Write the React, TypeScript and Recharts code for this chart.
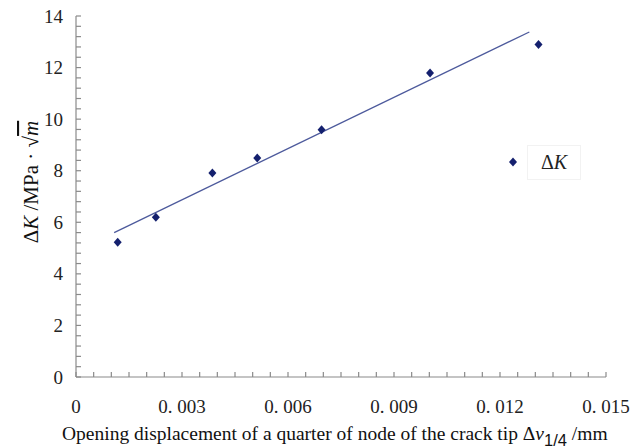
import { ScatterChart, Scatter, XAxis, YAxis, Legend } from 'recharts';

// opening displacement (mm) and ΔK (MPa·√m)
const dispX = [0.00118, 0.00226, 0.00386, 0.00513, 0.00695, 0.01002, 0.01309];
const deltaK = [5.23, 6.2, 7.91, 8.49, 9.59, 11.79, 12.89];

// linear trend line end points
const trendX = [0.00108, 0.01283];
const trendY = [5.6, 13.38];

const xMajor = [0, 0.003, 0.006, 0.009, 0.012, 0.015];
const xLabels = ['0', '0. 003', '0. 006', '0. 009', '0. 012', '0. 015'];
const xMinor = [
  0, 0.0005, 0.001, 0.0015, 0.002, 0.0025, 0.003, 0.0035, 0.004, 0.0045, 0.005,
  0.0055, 0.006, 0.0065, 0.007, 0.0075, 0.008, 0.0085, 0.009, 0.0095, 0.01,
  0.0105, 0.011, 0.0115, 0.012, 0.0125, 0.013, 0.0135, 0.014, 0.0145, 0.015,
];
const yMajor = [0, 2, 4, 6, 8, 10, 12, 14];
const yMinor = [
  0, 0.4, 0.8, 1.2, 1.6, 2, 2.4, 2.8, 3.2, 3.6, 4, 4.4, 4.8, 5.2, 5.6, 6, 6.4, 6.8,
  7.2, 7.6, 8, 8.4, 8.8, 9.2, 9.6, 10, 10.4, 10.8, 11.2, 11.6, 12, 12.4, 12.8, 13.2,
  13.6, 14,
];

const points = dispX.map((x, i) => ({ x, y: deltaK[i] }));
const trend = trendX.map((x, i) => ({ x, y: trendY[i] }));

const SERIF = '"Liberation Serif", "Times New Roman", serif';
const AXIS = '#8a8a8a';
const FRAME = '#b4b4b4';
const DOT = '#14206e';
const LINE = '#4d5a9c';
const GAP = 10; // tickMargin, used to find the axis line back inside the custom ticks

const near = (a: number, b: number) => Math.abs(a - b) < 1e-9;

// bottom axis tick: small inward mark plus label on majors
const XTick = (p: any) => {
  const v = p.payload?.value;
  const i = xMajor.findIndex((m) => near(m, v));
  const axisY = p.y - GAP;
  return (
    <g>
      <path d={`M${p.x},${axisY}V${axisY - 5}`} stroke={AXIS} strokeWidth={1.2} fill="none" />
      {i >= 0 && (
        <text x={p.x} y={axisY + 36} textAnchor="middle" fontFamily={SERIF} fontSize={19} fill="#222">
          {xLabels[i]}
        </text>
      )}
    </g>
  );
};

const YTick = (p: any) => {
  const v = p.payload?.value;
  const major = yMajor.some((m) => near(m, v));
  const axisX = p.x + GAP;
  return (
    <g>
      <path d={`M${axisX},${p.y}H${axisX + 5}`} stroke={AXIS} strokeWidth={1.2} fill="none" />
      {major && (
        <text x={axisX - 13} y={p.y + 6.5} textAnchor="end" fontFamily={SERIF} fontSize={19} fill="#222">
          {String(v)}
        </text>
      )}
    </g>
  );
};

const Diamond = (p: any) => {
  const { cx, cy } = p;
  if (cx == null || cy == null) return <g />;
  return <path d={`M${cx},${cy - 4.5}L${cx + 4},${cy}L${cx},${cy + 4.5}L${cx - 4},${cy}Z`} fill={DOT} />;
};

const NoDot = () => <g />;

const XTitle = (p: any) => {
  const vb = p.viewBox || { x: 76, y: 377 };
  return (
    <text x={vb.x - 14} y={vb.y + 63} fontFamily={SERIF} fontSize={19.5} fill="#111">
      Opening displacement of a quarter of node of the crack tip Δ
      <tspan fontStyle="italic">v</tspan>
      <tspan fontFamily='"Liberation Sans", Arial, sans-serif' fontSize={16.5} dy={6}>1/4</tspan>
      <tspan dy={-6}> /mm</tspan>
    </text>
  );
};

const YTitle = () => (
  <text
    x={38}
    y={182}
    transform="rotate(-90, 38, 182)"
    textAnchor="middle"
    fontFamily={SERIF}
    fontSize={21}
    fill="#111"
  >
    Δ<tspan fontStyle="italic">K</tspan> /MPa · √<tspan fontStyle="italic" textDecoration="overline">m</tspan>
  </text>
);

const LegendBox = () => (
  <div style={{ position: 'relative', width: 80, height: 34 }}>
    <svg width={12} height={12} style={{ position: 'absolute', left: 2, top: 11 }}>
      <path d="M6,1.5L10,6L6,10.5L2,6Z" fill={DOT} />
    </svg>
    <div
      style={{
        position: 'absolute',
        left: 22,
        top: 0,
        width: 52,
        height: 33,
        border: '1px solid #f2f2f2',
        fontFamily: SERIF,
        fontSize: 20,
        lineHeight: '33px',
        textAlign: 'center',
        color: '#222',
      }}
    >
      Δ<i>K</i>
    </div>
  </div>
);

export default function App() {
  return (
    <div style={{ position: 'absolute', left: 0, top: 0, width: 640, height: 448, background: '#fff', fontFamily: SERIF }}>
      <ScatterChart width={640} height={448} margin={{ top: 16, right: 34, bottom: 0, left: 0 }}>
        <XAxis
          dataKey="x"
          type="number"
          domain={[0, 0.015]}
          ticks={xMinor}
          interval={0}
          tickSize={0}
          tickMargin={GAP}
          height={71}
          axisLine={{ stroke: AXIS, strokeWidth: 1.2 }}
          tickLine={false}
          tick={XTick}
          label={(p: any) => <XTitle {...p} />}
        />
        <YAxis
          dataKey="y"
          type="number"
          domain={[0, 14]}
          ticks={yMinor}
          interval={0}
          tickSize={0}
          tickMargin={GAP}
          width={76}
          axisLine={{ stroke: AXIS, strokeWidth: 1.2 }}
          tickLine={false}
          tick={YTick}
          label={() => <YTitle />}
        />
        <XAxis
          xAxisId="top"
          orientation="top"
          type="number"
          domain={[0, 0.015]}
          height={0}
          tick={false}
          tickLine={false}
          axisLine={{ stroke: FRAME, strokeWidth: 1.2 }}
        />
        <YAxis
          yAxisId="right"
          orientation="right"
          type="number"
          domain={[0, 14]}
          width={0}
          tick={false}
          tickLine={false}
          axisLine={{ stroke: FRAME, strokeWidth: 1.2 }}
        />
        <Legend content={LegendBox} layout="horizontal" verticalAlign="middle" wrapperStyle={{ left: 505, top: 145, width: 80 }} />
        <Scatter
          name="trend"
          data={trend}
          line={{ stroke: LINE, strokeWidth: 1.3 }}
          shape={NoDot}
          legendType="none"
          isAnimationActive={false}
        />
        <Scatter name="ΔK" data={points} shape={Diamond} fill={DOT} isAnimationActive={false} />
      </ScatterChart>
    </div>
  );
}
